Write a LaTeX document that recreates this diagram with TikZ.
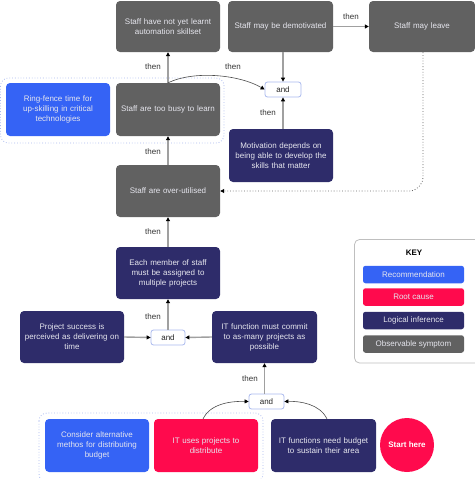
\documentclass[tikz,border=0pt]{standalone}
\usepackage{fontspec}
\setmainfont{Liberation Sans}
\usetikzlibrary{arrows.meta,calc}
\definecolor{symg}{HTML}{616161}
\definecolor{navy}{HTML}{2E2C6A}
\definecolor{recb}{HTML}{3563F5}
\definecolor{rootr}{HTML}{FF0A4D}
\definecolor{andb}{HTML}{A9B9EE}
\definecolor{lineg}{HTML}{A0A0A0}
\definecolor{boxtext}{HTML}{E6E6EE}
\tikzset{
  box/.style={rounded corners=4pt, minimum width=104pt, minimum height=52pt, text width=98pt, align=center, inner sep=0pt, font=\fontsize{8}{10}\selectfont, text=boxtext},
  symptom/.style={box, fill=symg},
  infer/.style={box, fill=navy},
  recom/.style={box, fill=recb},
  rootc/.style={box, fill=rootr},
  andbox/.style={draw=andb, line width=0.8pt, fill=white, rounded corners=2.5pt, minimum width=35pt, minimum height=15pt, inner sep=0pt, font=\fontsize{8}{10}\selectfont, text=black!85},
  conn/.style={draw=lineg, line width=1.4pt, -{Triangle[length=4pt,width=4pt,color=black]}},
  curv/.style={draw=black!70, line width=0.6pt, -{Triangle[length=4pt,width=4pt,color=black]}},
  thenlab/.style={font=\fontsize{8}{10}\selectfont, text=black!80, inner sep=0pt},
  grp/.style={draw=andb, dotted, line width=0.8pt, rounded corners=8pt},
  keyitem/.style={rounded corners=2.5pt, minimum width=101pt, minimum height=17.5pt, inner sep=0pt, font=\fontsize{8}{10}\selectfont, text=boxtext}
}
\begin{document}
\begin{tikzpicture}[x=1pt,y=-1pt]
\useasboundingbox (0,0) rectangle (474,479);
% groups
\draw[grp] (0.5,78) rectangle (224,143);
\draw[grp] (39,413) rectangle (263,482);
% boxes
\node[symptom, minimum height=51pt] (learnt) at (168,26.5) {Staff have not yet learnt\\automation skillset};
\node[symptom, minimum width=105pt, minimum height=51pt] (demot) at (280.5,26.5) {Staff may be demotivated};
\node[symptom, minimum width=106pt, minimum height=51pt] (leave) at (422,26.5) {Staff may leave};
\node[recom, minimum height=53pt] (ring) at (58,109.5) {Ring-fence time for\\up-skilling in critical\\technologies};
\node[symptom, minimum height=53pt] (busy) at (168,109.5) {Staff are too busy to learn};
\node[infer, minimum height=53pt] (motiv) at (281,155.5) {Motivation depends on\\being able to develop the\\skills that matter};
\node[symptom] (overut) at (168,191) {Staff are over-utilised};
\node[infer] (each) at (168,273) {Each member of staff\\must be assigned to\\multiple projects};
\node[infer] (proj) at (72,337) {Project success is\\perceived as delivering on\\time};
\node[infer, minimum width=105pt] (itc) at (264.5,337) {IT function must commit\\to as-many projects as\\possible};
\node[recom, minimum height=53pt] (consider) at (97,445.5) {Consider alternative\\methos for distributing\\budget};
\node[rootc, minimum height=53pt] (ituses) at (206,445.5) {IT uses projects to\\distribute};
\node[infer, minimum width=105pt, minimum height=53pt] (need) at (323.5,445.5) {IT functions need budget\\to sustain their area};
\node[circle, fill=rootr, minimum size=54pt, inner sep=0pt, text=white, font=\bfseries\fontsize{8}{10}\selectfont] (start) at (407,445) {Start here};
% and boxes
\node[andbox, minimum width=36pt] (and1) at (283,89.5) {and};
\node[andbox, minimum width=34pt] (and2) at (168,337.5) {and};
\node[andbox] (and3) at (266.5,401.5) {and};
% connectors
\draw[conn] (busy.north) -- (learnt.south);
\draw[conn] (demot.east) -- (leave.west);
\draw[conn] (demot.south -| and1) -- (and1.north);
\draw[conn] (motiv.north -| and1) -- (and1.south);
\draw[curv] (busy.north) .. controls (195,70) and (240,75) .. (and1.west);
\draw[conn] (overut.north) -- (busy.south);
\draw[conn] (each.north) -- (overut.south);
\draw[conn] (and2.north) -- (each.south);
\draw[conn] (proj.east) -- (and2.west);
\draw[conn] (itc.west) -- (and2.east);
\draw[conn] (and3.north -| itc) -- (itc.south);
\draw[curv] (203,419) .. controls (210,404) and (230,401) .. (and3.west);
\draw[curv] (327,419) .. controls (320,404) and (300,401) .. (and3.east);
\draw[draw=black!60, dotted, line width=0.8pt, rounded corners=14pt, -{Triangle[length=4pt,width=4pt,color=black]}] ($(leave.south)+(1,0)$) |- (overut.east);
% then labels
\node[thenlab] (t1) at (153,67) {then};
\node[thenlab] (t2) at (351,17) {then};
\node[thenlab] (t3) at (233,67) {then};
\node[thenlab] (t4) at (268,113) {then};
\node[thenlab] (t5) at (153,152) {then};
\node[thenlab] (t6) at (153,232) {then};
\node[thenlab] (t7) at (153,317) {then};
\node[thenlab] (t8) at (250,379) {then};
% key
\draw[draw=black!25, line width=0.8pt, rounded corners=5pt] (354.5,239.5) rectangle (480,363);
\node[font=\bfseries\fontsize{8}{10}\selectfont] (keyt) at (414,253) {KEY};
\node[keyitem, fill=recb] (k1) at (413.5,274.5) {Recommendation};
\node[keyitem, fill=rootr] (k2) at (413.5,297) {Root cause};
\node[keyitem, fill=navy] (k3) at (413.5,320.5) {Logical inference};
\node[keyitem, fill=symg] (k4) at (413.5,344) {Observable symptom};
\end{tikzpicture}
\end{document}
